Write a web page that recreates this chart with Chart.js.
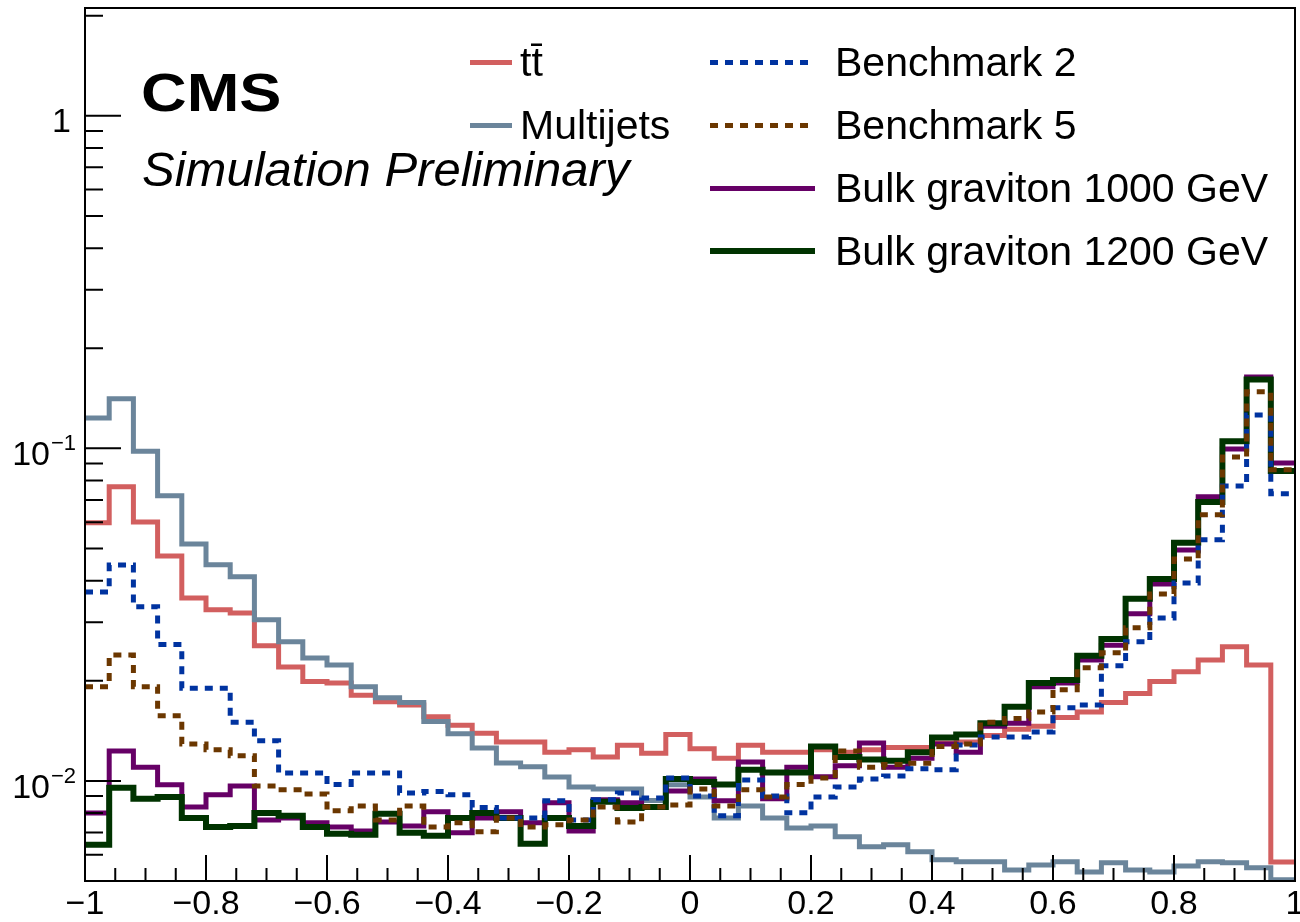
<!DOCTYPE html>
<html lang="en">
<head>
<meta charset="UTF-8">
<title>CMS Simulation Preliminary</title>
<script src="https://cdn.jsdelivr.net/npm/chart.js@4.4.0/dist/chart.umd.min.js"></script>
<style>
  html, body { margin: 0; padding: 0; background: #fff; }
  #wrap { position: relative; width: 1300px; height: 922px; font-family: "Liberation Sans", Arial, Helvetica, sans-serif; color: #000; }
  #wrap canvas { position: absolute; left: 0; top: 0; }
  .txt { position: absolute; white-space: nowrap; line-height: 1; transform-origin: 0 0; }
  .sample { position: absolute; }
</style>
</head>
<body>
<div id="wrap">
  <canvas id="plot" width="1300" height="922"></canvas>
  <div class="txt" id="cms" style="left:141px; font-weight:bold; font-size:54px; transform:scaleX(1.17);">CMS</div>
  <div class="txt" id="sim" style="left:142px; font-style:italic; font-size:49px;">Simulation Preliminary</div>
  <div id="legend"></div>
</div>

<script>
  // 50 bins of width 0.04 between -1 and 1 (left edges + last right edge)
  const binEdges = Array.from({ length: 51 }, (_, i) => +(-1 + i * 0.04).toFixed(2));

  const ttbar = [0.0597, 0.0766, 0.0601, 0.0475, 0.0355, 0.0327, 0.0320, 0.0255, 0.0220, 0.0199,
    0.0197, 0.0181, 0.0173, 0.0169, 0.0156, 0.0147, 0.0139, 0.0131, 0.0131, 0.0122,
    0.0124, 0.0118, 0.0128, 0.0121, 0.0138, 0.0125, 0.0117, 0.0128, 0.0122, 0.0122,
    0.0124, 0.0122, 0.0124, 0.0126, 0.0126, 0.0130, 0.0131, 0.0137, 0.0143, 0.0146,
    0.0155, 0.0161, 0.0172, 0.0183, 0.0199, 0.0213, 0.0231, 0.0253, 0.0223, 0.0057];

  const multijets = [0.1235, 0.141, 0.098, 0.072, 0.0516, 0.0447, 0.0411, 0.0305, 0.0262, 0.0234,
    0.0223, 0.0192, 0.0178, 0.0172, 0.0151, 0.01385, 0.01256, 0.01132, 0.01102, 0.01028,
    0.00959, 0.00946, 0.00946, 0.00873, 0.00973, 0.00895, 0.00774, 0.00841, 0.00774, 0.00722,
    0.00732, 0.00679, 0.00634, 0.00643, 0.00612, 0.00579, 0.00571, 0.00571, 0.00540, 0.00559,
    0.00571, 0.00532, 0.00567, 0.00540, 0.00532, 0.00555, 0.00571, 0.00567, 0.00548, 0.00504];

  const benchmark2 = [0.0370, 0.0446, 0.0334, 0.0257, 0.0190, 0.0190, 0.0150, 0.0132, 0.01057, 0.01057,
    0.00976, 0.01057, 0.01057, 0.00920, 0.00929, 0.00908, 0.00832, 0.00774, 0.00774, 0.00871,
    0.00763, 0.00877, 0.00920, 0.00889, 0.01021, 0.00901, 0.00785, 0.01007, 0.00901, 0.00802,
    0.00895, 0.00959, 0.01014, 0.01035, 0.01087, 0.01080, 0.01283, 0.01356, 0.01356, 0.01403,
    0.0166, 0.0169, 0.0222, 0.0262, 0.0309, 0.0394, 0.0531, 0.0771, 0.126, 0.0730];

  const benchmark5 = [0.0192, 0.0239, 0.0192, 0.0157, 0.0129, 0.0124, 0.0119, 0.00966, 0.00940, 0.00914,
    0.00813, 0.00841, 0.00763, 0.00841, 0.00727, 0.00748, 0.00703, 0.00774, 0.00727, 0.00738,
    0.00763, 0.00835, 0.00752, 0.00835, 0.00847, 0.00946, 0.00841, 0.00940, 0.00895, 0.00976,
    0.0102, 0.0123, 0.0110, 0.0112, 0.0113, 0.0127, 0.0129, 0.0150, 0.0154, 0.0161,
    0.0188, 0.0219, 0.0243, 0.0289, 0.0365, 0.0465, 0.0631, 0.0942, 0.148, 0.0862];

  const bulk1000 = [0.00801, 0.0123, 0.0110, 0.00973, 0.00835, 0.00908, 0.00966, 0.00763, 0.00774, 0.00748,
    0.00727, 0.00707, 0.00752, 0.00732, 0.00807, 0.00698, 0.00774, 0.00807, 0.00748, 0.00859,
    0.00707, 0.00877, 0.00859, 0.00835, 0.00933, 0.01014, 0.00871, 0.0114, 0.00883, 0.0110,
    0.0103, 0.0111, 0.0130, 0.0110, 0.0117, 0.0129, 0.0122, 0.0146, 0.0149, 0.0192,
    0.0197, 0.0231, 0.0256, 0.0318, 0.0391, 0.0495, 0.0715, 0.0996, 0.164, 0.0904];

  const bulk1200 = [0.00643, 0.00953, 0.00883, 0.00895, 0.00774, 0.00727, 0.00732, 0.00801, 0.00785, 0.00727,
    0.00694, 0.00689, 0.00796, 0.00698, 0.00684, 0.00774, 0.00801, 0.00774, 0.00647, 0.00774,
    0.00732, 0.00865, 0.00829, 0.00835, 0.01014, 0.00993, 0.00976, 0.0108, 0.0106, 0.0106,
    0.0127, 0.0118, 0.0116, 0.0115, 0.0122, 0.0135, 0.0138, 0.0149, 0.0167, 0.0197,
    0.0201, 0.0238, 0.0267, 0.0353, 0.0405, 0.0520, 0.0690, 0.105, 0.161, 0.0855];

  const xTicks = [-1, -0.8, -0.6, -0.4, -0.2, 0, 0.2, 0.4, 0.6, 0.8, 1];
  const yDecades = [1, 0.1, 0.01];
  const yMin = 0.005, yMax = 2.11;

  // histogram as step line: one point per left bin edge, last value repeated at x = 1
  function steps(vals) {
    return binEdges.map((x, i) => ({ x: x, y: vals[Math.min(i, vals.length - 1)] }));
  }

  function hist(label, vals, color, width, dash, order, col) {
    return {
      label: label,
      data: steps(vals),
      borderColor: color,
      borderWidth: width,
      borderDash: dash,
      stepped: 'before',
      pointRadius: 0,
      fill: false,
      order: order,
      legendCol: col
    };
  }

  const datasets = [
    hist('t\u0074\u0304', ttbar, '#d25f5f', 5, [], 6, 0),
    hist('Multijets', multijets, '#6b859b', 5, [], 5, 0),
    hist('Benchmark 2', benchmark2, '#0033a0', 5, [8, 7], 2, 1),
    hist('Benchmark 5', benchmark5, '#6b3700', 5, [8, 7], 1, 1),
    hist('Bulk graviton 1000 GeV', bulk1000, '#660066', 5, [], 4, 1),
    hist('Bulk graviton 1200 GeV', bulk1200, '#003300', 6, [], 3, 1)
  ];

  function fmtX(v) {
    const r = Math.round(v * 10) / 10;
    return r < 0 ? '\u2212' + String(-r) : String(Math.abs(r));
  }

  // ROOT-like frame: inward ticks, exponent labels on the log axis
  const rootFrame = {
    id: 'rootFrame',
    afterDatasetsDraw(chart) {
      const { ctx, chartArea: a, scales: { x, y } } = chart;
      ctx.save();
      ctx.strokeStyle = '#000';
      ctx.lineWidth = 2;
      ctx.strokeRect(a.left, a.top, a.right - a.left, a.bottom - a.top);

      ctx.beginPath();
      for (let i = 0; i <= 40; i++) {
        const px = x.getPixelForValue(-1 + i * 0.05);
        const len = i % 4 === 0 ? 26 : 13;
        ctx.moveTo(px, a.bottom);
        ctx.lineTo(px, a.bottom - len);
      }
      for (let k = -3; k <= 0; k++) {
        for (let m = 1; m <= 9; m++) {
          const v = m * Math.pow(10, k);
          if (v <= yMin * 1.0001 || v >= yMax) continue;
          const py = y.getPixelForValue(v);
          ctx.moveTo(a.left, py);
          ctx.lineTo(a.left + (m === 1 ? 36 : 18), py);
        }
      }
      ctx.stroke();

      ctx.fillStyle = '#000';
      ctx.textBaseline = 'alphabetic';
      yDecades.forEach(v => {
        const py = y.getPixelForValue(v);
        const exp = Math.round(Math.log10(v));
        if (exp === 0) {
          ctx.font = '34px "Liberation Sans", Arial, sans-serif';
          ctx.textAlign = 'right';
          ctx.fillText('1', 71, py + 16);
        } else {
          ctx.font = '34px "Liberation Sans", Arial, sans-serif';
          ctx.textAlign = 'right';
          ctx.fillText('10', 50, py + 17);
          ctx.font = '22px "Liberation Sans", Arial, sans-serif';
          ctx.textAlign = 'left';
          ctx.fillText('\u2212' + String(-exp), 51, py + 2);
        }
      });
      ctx.restore();
    }
  };

  const chart = new Chart(document.getElementById('plot'), {
    type: 'line',
    data: { datasets: datasets },
    options: {
      responsive: false,
      animation: false,
      devicePixelRatio: 1,
      layout: { padding: { top: 8, right: 5, left: 0, bottom: 0 } },
      plugins: { legend: { display: false }, tooltip: { enabled: false } },
      scales: {
        x: {
          type: 'linear',
          min: -1,
          max: 1,
          afterBuildTicks: s => { s.ticks = xTicks.map(v => ({ value: v })); },
          ticks: {
            callback: fmtX,
            color: '#000',
            font: { family: '"Liberation Sans", Arial, sans-serif', size: 34 },
            padding: 3,
            maxRotation: 0,
            autoSkip: false
          },
          grid: { display: false, drawTicks: false },
          border: { display: false },
          afterFit: s => { s.height = 41; s.paddingLeft = 0; s.paddingRight = 0; }
        },
        y: {
          type: 'logarithmic',
          min: yMin,
          max: yMax,
          ticks: { display: false },
          grid: { display: false, drawTicks: false },
          border: { display: false },
          afterFit: s => { s.width = 85; s.paddingTop = 0; s.paddingBottom = 0; }
        }
      }
    },
    plugins: [rootFrame]
  });

  // text overlays, baseline placed from font size (ascent ~0.905em, line-height 1)
  function placeBaseline(el, baseline) {
    const fs = parseFloat(getComputedStyle(el).fontSize);
    el.style.top = (baseline - fs * 0.8465) + 'px';
  }
  placeBaseline(document.getElementById('cms'), 111);
  placeBaseline(document.getElementById('sim'), 186);

  // legend built from the datasets: two columns
  const legendCols = [
    { lineX: 470, lineW: 42, textX: 520 },
    { lineX: 710, lineW: 105, textX: 835 }
  ];
  const rowY0 = 62, rowStep = 63, legendFont = 41;
  const legendEl = document.getElementById('legend');
  const colCount = [0, 0];
  chart.data.datasets.forEach(ds => {
    const c = legendCols[ds.legendCol];
    const row = colCount[ds.legendCol]++;
    const cy = rowY0 + row * rowStep;

    const s = document.createElement('div');
    s.className = 'sample';
    s.style.left = c.lineX + 'px';
    s.style.width = c.lineW + 'px';
    s.style.height = ds.borderWidth + 'px';
    s.style.top = (cy - ds.borderWidth / 2) + 'px';
    if (ds.borderDash.length) {
      const on = ds.borderDash[0], off = ds.borderDash[1];
      s.style.background = 'repeating-linear-gradient(to right, ' + ds.borderColor + ' 0 ' + on + 'px, transparent ' + on + 'px ' + (on + off) + 'px)';
    } else {
      s.style.background = ds.borderColor;
    }
    legendEl.appendChild(s);

    const t = document.createElement('div');
    t.className = 'txt';
    t.style.left = c.textX + 'px';
    t.style.fontSize = legendFont + 'px';
    t.textContent = ds.label;
    legendEl.appendChild(t);
    placeBaseline(t, cy + legendFont * 0.716 / 2);
  });
</script>
</body>
</html>
